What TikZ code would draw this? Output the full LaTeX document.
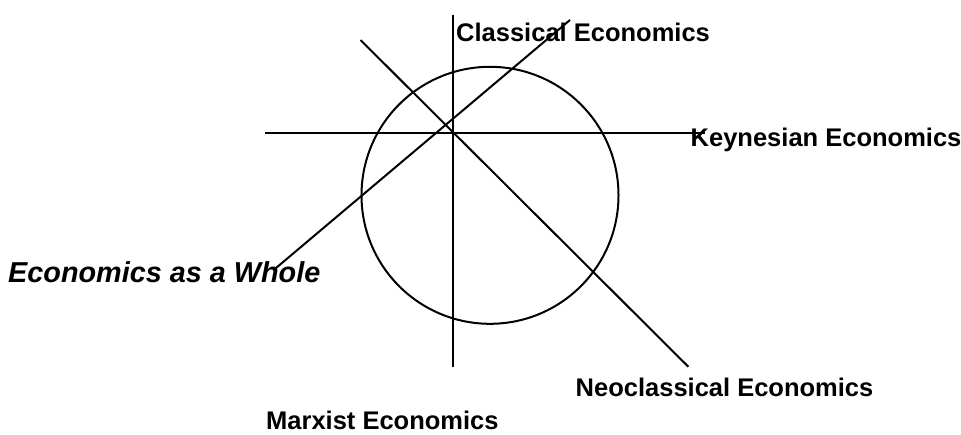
\documentclass[tikz,border=0pt]{standalone}
\usepackage{fontspec}
\setmainfont{Liberation Sans}
\begin{document}
\begin{tikzpicture}[x=1pt,y=-1pt,
  ln/.style={line width=2pt,black},
  lbl/.style={inner sep=0pt,anchor=base west,font=\fontsize{25.5}{30}\selectfont\bfseries},
  lbli/.style={inner sep=0pt,anchor=base west,font=\fontsize{28.8}{32}\selectfont\bfseries\itshape}]
\useasboundingbox (0,0) rectangle (961,434);
% circle
\coordinate (c) at (490,195.3);
\draw[ln] (c) circle[radius=128.5];
% axis end points
\coordinate (vT) at (453.3,15);
\coordinate (vB) at (453.3,367);
\coordinate (hL) at (265,133.3);
\coordinate (hR) at (705,133.3);
\coordinate (d1B) at (276,268);
\coordinate (d1T) at (570,20);
\coordinate (d2T) at (360.5,40);
\coordinate (d2B) at (688.3,366.7);
\draw[ln] (vT) -- (vB);
\draw[ln] (hL) -- (hR);
\draw[ln] (d1B) -- (d1T);
\draw[ln] (d2T) -- (d2B);
% labels
\node[lbl] (classical) at (456,41.7) {Classical Economics};
\node[lbl] (keynes) at (690.5,146) {Keynesian Economics};
\node[lbli] (whole) at (8,282.3) {Economics as a Whole};
\node[lbl] (neo) at (575.5,396.7) {Neoclassical Economics};
\node[lbl] (marx) at (266,429) {Marxist Economics};
\end{tikzpicture}
\end{document}
